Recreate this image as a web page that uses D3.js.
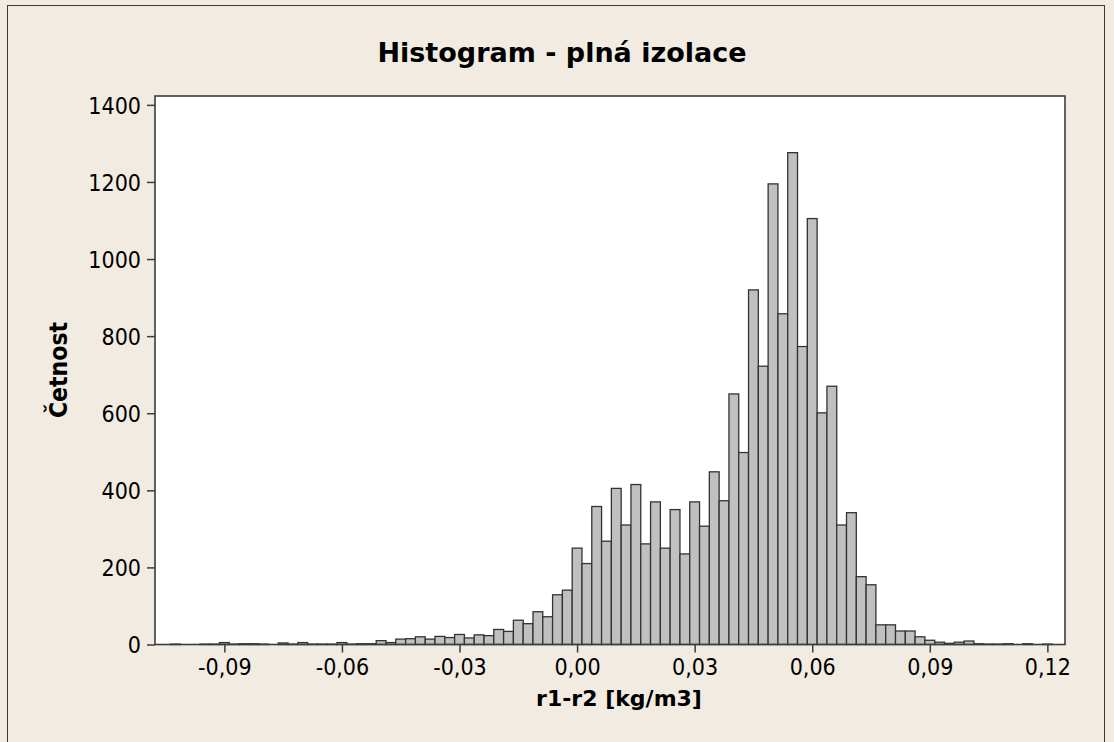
<!DOCTYPE html>
<html lang="cs">
  <head>
    <meta charset="UTF-8" />
    <title>Histogram - plná izolace</title>
    <style>
      body {
        margin: 0;
        background: #f1ebe1;
      }

      svg {
        display: block;
        font-family: 'DejaVu Sans Condensed', 'DejaVu Sans', sans-serif;
        font-stretch: condensed;
      }
    </style>
  </head>
  <body>
    <svg width="1114" height="742"></svg>
    <script src="https://d3js.org/d3.v7.min.js"></script>
    <script>
      // bin midpoints (bin width 0.0025)
      const binMids = [
        -0.1025, -0.1, -0.0975, -0.095, -0.0925, -0.09, -0.0875, -0.085, -0.0825, -0.08,
        -0.0775, -0.075, -0.0725, -0.07, -0.0675, -0.065, -0.0625, -0.06, -0.0575, -0.055,
        -0.0525, -0.05, -0.0475, -0.045, -0.0425, -0.04, -0.0375, -0.035, -0.0325, -0.03,
        -0.0275, -0.025, -0.0225, -0.02, -0.0175, -0.015, -0.0125, -0.01, -0.0075, -0.005,
        -0.0025, 0, 0.0025, 0.005, 0.0075, 0.01, 0.0125, 0.015, 0.0175, 0.02,
        0.0225, 0.025, 0.0275, 0.03, 0.0325, 0.035, 0.0375, 0.04, 0.0425, 0.045,
        0.0475, 0.05, 0.0525, 0.055, 0.0575, 0.06, 0.0625, 0.065, 0.0675, 0.07,
        0.0725, 0.075, 0.0775, 0.08, 0.0825, 0.085, 0.0875, 0.09, 0.0925, 0.095,
        0.0975, 0.1, 0.1025, 0.105, 0.1075, 0.11, 0.1125, 0.115, 0.1175, 0.12
      ];
      const binWidth = 0.0025;

      // counts per bin
      const counts = [
        1, 0, 0, 1, 1, 5, 1, 2, 2, 1,
        0, 4, 1, 5, 1, 1, 1, 5, 1, 2,
        2, 10, 5, 14, 15, 20, 14, 21, 18, 26,
        17, 25, 23, 39, 34, 63, 54, 85, 72, 129,
        141, 250, 210, 358, 268, 405, 310, 415, 261, 370,
        250, 350, 235, 370, 307, 448, 373, 650, 498, 920,
        722, 1195, 858, 1276, 773, 1105, 601, 670, 310, 342,
        176, 155, 51, 51, 35, 35, 20, 11, 6, 3,
        6, 9, 2, 1, 1, 2, 0, 2, 0, 1
      ];

      const xTicks = [-0.09, -0.06, -0.03, 0, 0.03, 0.06, 0.09, 0.12];
      const yTicks = [0, 200, 400, 600, 800, 1000, 1200, 1400];

      const svg = d3.select('svg'),
        plot = { left: 155, right: 1065, top: 96, bottom: 644.5 };

      const data = binMids.map((m, i) => ({ mid: m, count: counts[i] }));

      const x = d3
        .scaleLinear()
        .domain([-0.1077, 0.1245])
        .range([plot.left, plot.right]);

      const y = d3
        .scaleLinear()
        .domain([0, 1423])
        .range([plot.bottom, plot.top]);

      const fmt = (d) => (d === 0 ? '0,00' : d3.format('.2f')(d).replace('.', ',').replace('−', '-'));

      // outer frame
      svg
        .append('rect')
        .attr('x', 7.5)
        .attr('y', 5.5)
        .attr('width', 1097)
        .attr('height', 760)
        .attr('fill', '#f1ebe1')
        .attr('stroke', '#3a3a3a')
        .attr('stroke-width', 1);

      // plot area
      svg
        .append('rect')
        .attr('x', plot.left)
        .attr('y', plot.top)
        .attr('width', plot.right - plot.left)
        .attr('height', plot.bottom - plot.top)
        .attr('fill', '#ffffff');

      svg
        .append('g')
        .selectAll('rect')
        .data(data.filter((d) => d.count > 0))
        .join('rect')
        .attr('x', (d) => x(d.mid - binWidth / 2))
        .attr('width', (d) => x(d.mid + binWidth / 2) - x(d.mid - binWidth / 2))
        .attr('y', (d) => y(d.count))
        .attr('height', (d) => y(0) - y(d.count))
        .attr('fill', '#c0c0c0')
        .attr('stroke', '#333333')
        .attr('stroke-width', 1.3);

      svg
        .append('rect')
        .attr('x', plot.left)
        .attr('y', plot.top)
        .attr('width', plot.right - plot.left)
        .attr('height', plot.bottom - plot.top)
        .attr('fill', 'none')
        .attr('stroke', '#3c3c3c')
        .attr('stroke-width', 1.6);

      // axes
      const yAxis = svg
        .append('g')
        .attr('transform', `translate(${plot.left},0)`)
        .call(d3.axisLeft(y).tickValues(yTicks).tickSize(8).tickPadding(6).tickFormat(d3.format('d')));

      const xAxis = svg
        .append('g')
        .attr('transform', `translate(0,${plot.bottom})`)
        .call(d3.axisBottom(x).tickValues(xTicks).tickSize(8).tickPadding(6).tickFormat(fmt));

      [xAxis, yAxis].forEach((a) => {
        a.select('.domain').remove();
        a.selectAll('line').attr('stroke', '#3c3c3c').attr('stroke-width', 1.5);
        a.selectAll('text')
          .attr('fill', '#000')
          .style('font-size', '23px')
          .style('font-family', "'DejaVu Sans Condensed', 'DejaVu Sans', sans-serif");
      });
      yAxis.selectAll('text').attr('dy', '0.36em');

      // titles
      svg
        .append('text')
        .attr('x', 562)
        .attr('y', 62)
        .attr('text-anchor', 'middle')
        .style('font-family', "'DejaVu Sans', sans-serif")
        .style('font-stretch', 'normal')
        .style('font-size', '27px')
        .style('font-weight', 'bold')
        .text('Histogram - plná izolace');

      svg
        .append('text')
        .attr('x', 619)
        .attr('y', 706)
        .attr('text-anchor', 'middle')
        .style('font-family', "'DejaVu Sans', sans-serif")
        .style('font-stretch', 'normal')
        .style('font-size', '22px')
        .style('font-weight', 'bold')
        .text('r1-r2 [kg/m3]');

      svg
        .append('text')
        .attr('transform', 'translate(67,370) rotate(-90)')
        .attr('text-anchor', 'middle')
        .style('font-size', '24.5px')
        .style('font-weight', 'bold')
        .text('Četnost');
    </script>
  </body>
</html>
